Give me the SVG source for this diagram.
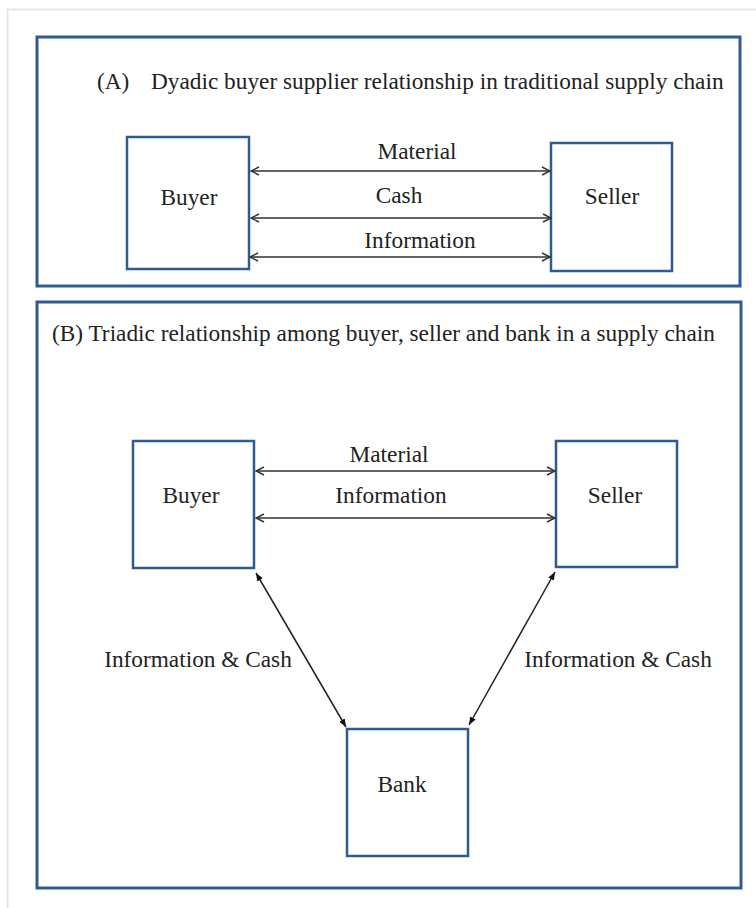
<svg xmlns="http://www.w3.org/2000/svg" width="756" height="908" viewBox="0 0 756 908">
<style>
.frame{fill:none;stroke:#2f5b94;stroke-width:3}
.node{fill:#fff;stroke:#2f5b94;stroke-width:2.5}
.t{font-family:"Liberation Serif","Times New Roman",serif;font-size:23.3px;fill:#222}
.c{stroke:#333;stroke-width:1.5;fill:none}
.d{stroke:#222;stroke-width:1.5;fill:none}
</style>
<defs>
<marker id="open" viewBox="0 0 10 10" refX="9" refY="5" markerWidth="10" markerHeight="10" markerUnits="userSpaceOnUse" orient="auto-start-reverse">
<path d="M1,1 L9,5 L1,9" fill="none" stroke="#333" stroke-width="1.5"/>
</marker>
<marker id="solid" viewBox="0 0 10 10" refX="10" refY="5" markerWidth="8" markerHeight="8" markerUnits="userSpaceOnUse" orient="auto-start-reverse">
<path d="M0,1 L10,5 L0,9 Z" fill="#111"/>
</marker>
</defs>
<rect width="756" height="908" fill="#fff"/>
<rect x="7.5" y="9.5" width="760" height="910" fill="none" stroke="#e4e7ed" stroke-width="2"/>

<g id="panelA">
<rect class="frame" x="37" y="37" width="703" height="249"/>
<text class="t" y="89"><tspan x="97">(A)</tspan><tspan x="151">Dyadic buyer supplier relationship in traditional supply chain</tspan></text>
</g>
<g id="buyerA">
<rect class="node" x="127" y="137" width="122" height="132"/>
<text class="t" x="189" y="205" text-anchor="middle">Buyer</text>
</g>
<g id="sellerA">
<rect class="node" x="551" y="143" width="121" height="128"/>
<text class="t" x="612" y="204" text-anchor="middle">Seller</text>
</g>

<g id="panelB">
<rect class="frame" x="37" y="302" width="704" height="586"/>
<text class="t" x="52" y="341">(B) Triadic relationship among buyer, seller and bank in a supply chain</text>
</g>
<g id="buyerB">
<rect class="node" x="133" y="441" width="121" height="127"/>
<text class="t" x="191" y="503" text-anchor="middle">Buyer</text>
</g>
<g id="sellerB">
<rect class="node" x="556" y="441" width="121" height="126"/>
<text class="t" x="615" y="503" text-anchor="middle">Seller</text>
</g>
<g id="bank">
<rect class="node" x="347" y="729" width="121" height="127"/>
<text class="t" x="402" y="792" text-anchor="middle">Bank</text>
</g>

<g id="connectors">
<line class="c" x1="251" y1="171" x2="550" y2="171" marker-start="url(#open)" marker-end="url(#open)"/>
<line class="c" x1="251" y1="218" x2="551" y2="218" marker-start="url(#open)" marker-end="url(#open)"/>
<line class="c" x1="250" y1="257" x2="550" y2="257" marker-start="url(#open)" marker-end="url(#open)"/>
<text class="t" x="417" y="159" text-anchor="middle">Material</text>
<text class="t" x="399" y="203" text-anchor="middle">Cash</text>
<text class="t" x="420" y="248" text-anchor="middle">Information</text>

<line class="c" x1="256" y1="471" x2="555" y2="471" marker-start="url(#open)" marker-end="url(#open)"/>
<line class="c" x1="256" y1="518" x2="555" y2="518" marker-start="url(#open)" marker-end="url(#open)"/>
<text class="t" x="389" y="462" text-anchor="middle">Material</text>
<text class="t" x="391" y="503" text-anchor="middle">Information</text>

<line class="d" x1="256" y1="573" x2="346" y2="727" marker-start="url(#solid)" marker-end="url(#solid)"/>
<line class="d" x1="555" y1="572" x2="469" y2="725" marker-start="url(#solid)" marker-end="url(#solid)"/>
<text class="t" x="198" y="667" text-anchor="middle">Information &amp; Cash</text>
<text class="t" x="618" y="667" text-anchor="middle">Information &amp; Cash</text>
</g>
</svg>
